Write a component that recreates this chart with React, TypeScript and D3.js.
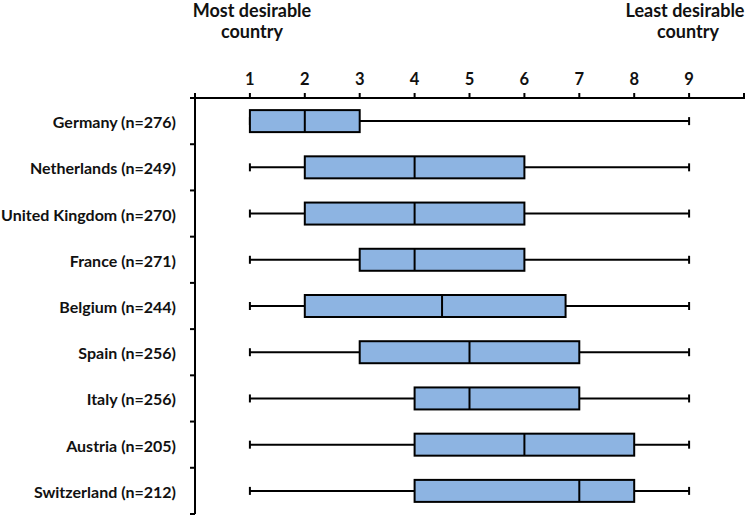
import React from "react";
import * as d3 from "d3";

const countries = [
  "Germany (n=276)",
  "Netherlands (n=249)",
  "United Kingdom (n=270)",
  "France (n=271)",
  "Belgium (n=244)",
  "Spain (n=256)",
  "Italy (n=256)",
  "Austria (n=205)",
  "Switzerland (n=212)",
];
const mins = [1, 1, 1, 1, 1, 1, 1, 1, 1];
const q1s = [1, 2, 2, 3, 2, 3, 4, 4, 4];
const medians = [2, 4, 4, 4, 4.5, 5, 5, 6, 7];
const q3s = [3, 6, 6, 6, 6.75, 7, 7, 8, 8];
const maxs = [9, 9, 9, 9, 9, 9, 9, 9, 9];
const tickValues = [1, 2, 3, 4, 5, 6, 7, 8, 9];

const W = 750;
const H = 517;
const font = "Lato, 'Open Sans', sans-serif";

export default function App() {
  const x = d3.scaleLinear().domain([0, 10]).range([195, 744]);
  const y = d3.scaleBand().domain(countries).range([98, 514]);
  const bw = 22;
  const allTicks = d3.range(0, 11);
  const boundaries = d3.range(0, countries.length + 1).map((i) => 98 + i * y.step());

  return (
    <svg width={W} height={H} style={{ position: "absolute", left: 0, top: 0, background: "#fff" }}>
      <g fontFamily={font} fontWeight="bold" fill="#111">
        <text x={252} y={17} fontSize={18} textAnchor="middle">Most desirable</text>
        <text x={252} y={38} fontSize={18} textAnchor="middle">country</text>
        <text x={685} y={17} fontSize={18} textAnchor="middle">Least desirable</text>
        <text x={688} y={38} fontSize={18} textAnchor="middle">country</text>
      </g>
      {/* top axis */}
      <line x1={x(0)} x2={x(10)} y1={98} y2={98} stroke="#000" strokeWidth={2} />
      {allTicks.map((t) => (
        <line key={"t" + t} x1={x(t)} x2={x(t)} y1={93} y2={99} stroke="#000" strokeWidth={2} />
      ))}
      {tickValues.map((t) => (
        <text key={"l" + t} x={x(t)} y={85} fontSize={16.5} fontWeight="bold" fontFamily={font} textAnchor="middle" fill="#111">
          {t}
        </text>
      ))}
      {/* left axis */}
      <line x1={x(0)} x2={x(0)} y1={93} y2={514} stroke="#000" strokeWidth={2} />
      {boundaries.map((b, i) => (
        <line key={"b" + i} x1={x(0) - 5} x2={x(0)} y1={b} y2={b} stroke="#000" strokeWidth={2} />
      ))}
      {countries.map((c, i) => {
        const cy = (y(c) as number) + y.bandwidth() / 2;
        return (
          <g key={c}>
            <text x={176} y={cy + 7} fontSize={16} fontWeight="bold" fontFamily={font} textAnchor="end" fill="#111">
              {c}
            </text>
            <line x1={x(mins[i])} x2={x(q1s[i])} y1={cy} y2={cy} stroke="#000" strokeWidth={2} />
            <line x1={x(q3s[i])} x2={x(maxs[i])} y1={cy} y2={cy} stroke="#000" strokeWidth={2} />
            <line x1={x(mins[i])} x2={x(mins[i])} y1={cy - 4} y2={cy + 4} stroke="#000" strokeWidth={2} />
            <line x1={x(maxs[i])} x2={x(maxs[i])} y1={cy - 4} y2={cy + 4} stroke="#000" strokeWidth={2} />
            <rect
              x={x(q1s[i])}
              y={cy - bw / 2}
              width={x(q3s[i]) - x(q1s[i])}
              height={bw}
              fill="#8db4e2"
              stroke="#000"
              strokeWidth={2}
            />
            <line x1={x(medians[i])} x2={x(medians[i])} y1={cy - bw / 2} y2={cy + bw / 2} stroke="#000" strokeWidth={2} />
          </g>
        );
      })}
    </svg>
  );
}
